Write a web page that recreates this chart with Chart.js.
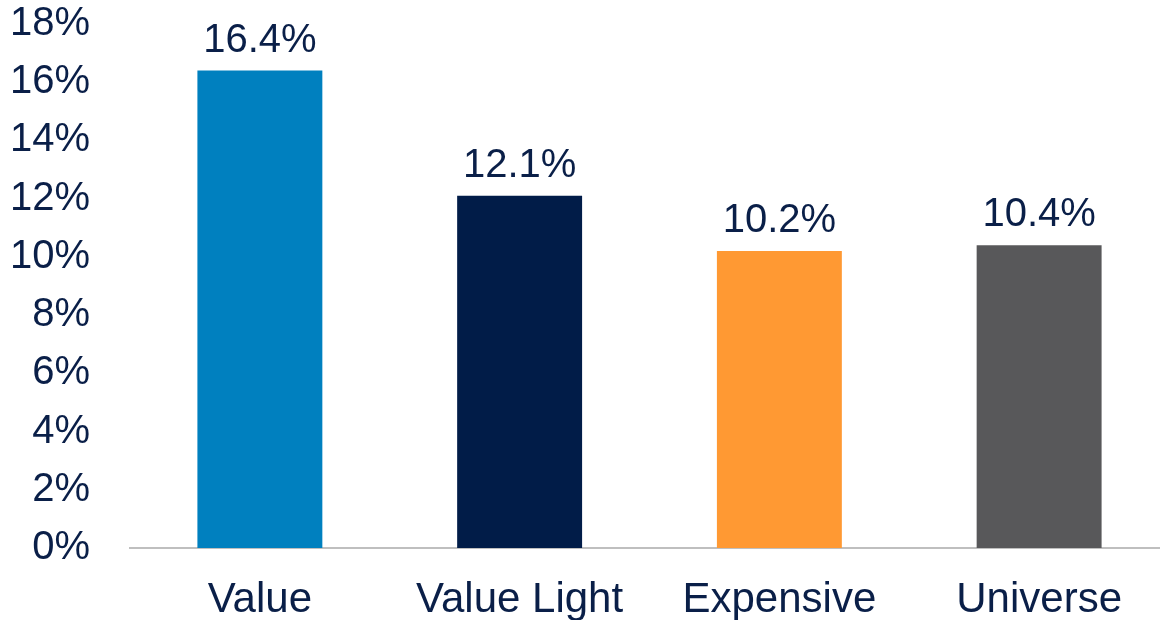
<!DOCTYPE html>
<html>
<head>
<meta charset="utf-8">
<script src="https://cdn.jsdelivr.net/npm/chart.js@4"></script>
<style>
  html, body { margin: 0; padding: 0; background: #fff; overflow: hidden; }
</style>
</head>
<body>
<canvas id="chart" width="1169" height="620"></canvas>
<script>
const categories = ["Value", "Value Light", "Expensive", "Universe"];
const returns = [16.4, 12.1, 10.2, 10.4];
const barColors = ["#0080bf", "#011c48", "#ff9933", "#58585a"];
const yTicks = [0, 2, 4, 6, 8, 10, 12, 14, 16, 18];

const NAVY = "#0a1f48";
const FONT = "'Liberation Sans', Arial, sans-serif";

// values above the bars
const barLabels = {
  id: "barLabels",
  afterDatasetsDraw(chart) {
    const ctx = chart.ctx;
    const meta = chart.getDatasetMeta(0);
    ctx.save();
    ctx.font = "40px " + FONT;
    ctx.fillStyle = NAVY;
    ctx.textAlign = "center";
    ctx.textBaseline = "alphabetic";
    meta.data.forEach((bar, i) => {
      ctx.fillText(returns[i].toFixed(1) + "%", bar.x, bar.y - 19);
    });
    ctx.restore();
  }
};

new Chart(document.getElementById("chart").getContext("2d"), {
  type: "bar",
  data: {
    labels: categories,
    datasets: [{
      data: returns,
      backgroundColor: barColors,
      barPercentage: 0.481,
      categoryPercentage: 1
    }]
  },
  options: {
    responsive: false,
    animation: false,
    layout: { padding: 0 },
    plugins: {
      legend: { display: false },
      tooltip: { enabled: false }
    },
    scales: {
      x: {
        grid: { display: false },
        border: { display: true, color: "#bfbfbf", width: 2 },
        afterFit: (scale) => { scale.height = 72; },
        ticks: {
          color: NAVY,
          font: { family: FONT, size: 42 },
          padding: 19,
          maxRotation: 0,
          autoSkip: false
        }
      },
      y: {
        min: yTicks[0],
        max: yTicks[yTicks.length - 1],
        afterFit: (scale) => {
          scale.width = 130;
          scale.paddingTop = 24;
          scale.paddingBottom = 0;
        },
        grid: { display: false },
        border: { display: false },
        ticks: {
          stepSize: yTicks[1] - yTicks[0],
          autoSkip: false,
          color: NAVY,
          font: { family: FONT, size: 40 },
          padding: 32,
          callback: (v) => v + "%"
        }
      }
    }
  },
  plugins: [barLabels]
});
</script>
</body>
</html>
